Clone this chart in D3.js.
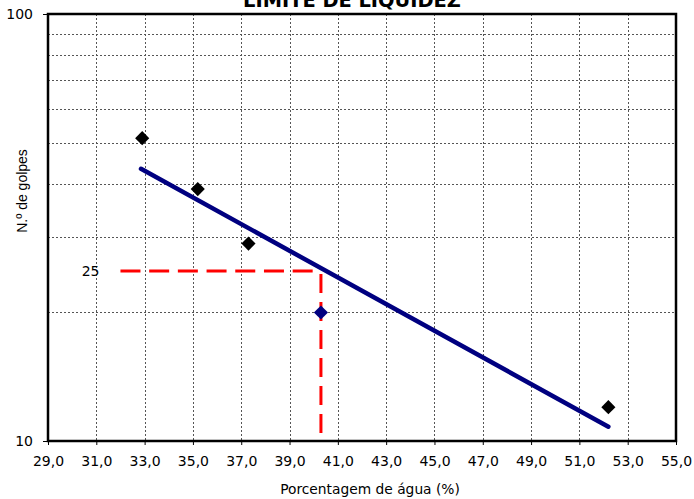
<!DOCTYPE html>
<html>
<head>
<meta charset="utf-8">
<script src="https://cdn.jsdelivr.net/npm/d3@7"></script>
<style>
  body { margin: 0; background: #fff; }
  svg { display: block; }
</style>
</head>
<body>
<div id="chart"></div>
<script>
// data
var waterPct = [32.9, 35.2, 37.3, 52.2];
var blows = [51.2, 38.9, 29.0, 12.0];
var pointLLX = [40.3];
var pointLLY = [20.0];
var trendX = [32.85, 52.2];
var trendY = [43.4, 10.8];
var limitX = [32.0, 40.3];   // red dashed guide: from x=32 to LL
var limitN = 25;
var xTicks = [29, 31, 33, 35, 37, 39, 41, 43, 45, 47, 49, 51, 53, 55];
var yTicks = [10, 100];
var yGrid = [20, 30, 40, 50, 60, 70, 80, 90];

var width = 694,
    height = 499,
    margin = { top: 14, right: 18, bottom: 58, left: 48 };

var svg = d3.select('#chart').append('svg')
    .attr('width', width)
    .attr('height', height);

var x = d3.scaleLinear().domain([29, 55]).range([margin.left, width - margin.right]);
var y = d3.scaleLog().domain([10, 100]).range([height - margin.bottom, margin.top]);

var fmt = function(d) { return d3.format('.1f')(d).replace('.', ','); };

// grid
var grid = svg.append('g').attr('class', 'grid')
    .attr('stroke', '#555').attr('stroke-width', 1).attr('stroke-dasharray', '2,2');
grid.selectAll('line.v')
    .data(xTicks.slice(1, -1))
    .enter().append('line')
    .attr('x1', function(d) { return Math.round(x(d)) + 0.5; })
    .attr('x2', function(d) { return Math.round(x(d)) + 0.5; })
    .attr('y1', y(100)).attr('y2', y(10));
grid.selectAll('line.h')
    .data(yGrid)
    .enter().append('line')
    .attr('y1', function(d) { return Math.round(y(d)) + 0.5; })
    .attr('y2', function(d) { return Math.round(y(d)) + 0.5; })
    .attr('x1', x(29)).attr('x2', x(55));

// axes
var xAxis = svg.append('g')
    .attr('transform', 'translate(0,' + y(10) + ')')
    .call(d3.axisBottom(x).tickValues(xTicks).tickFormat(fmt).tickSize(4).tickPadding(11));
var yAxis = svg.append('g')
    .attr('transform', 'translate(' + x(29) + ',0)')
    .call(d3.axisLeft(y).tickValues(yTicks).tickFormat(d3.format('d')).tickSize(5).tickPadding(10));
[xAxis, yAxis].forEach(function(a) {
    a.select('.domain').remove();
    a.selectAll('.tick line').attr('stroke', '#000');
    a.selectAll('.tick text')
        .attr('fill', '#000')
        .style('font-family', '"DejaVu Sans", sans-serif')
        .style('font-size', '14px');
});
yAxis.selectAll('.tick text').attr('dy', '0.35em');

// frame
svg.append('rect')
    .attr('x', x(29)).attr('y', y(100))
    .attr('width', x(55) - x(29)).attr('height', y(10) - y(100))
    .attr('fill', 'none').attr('stroke', '#000').attr('stroke-width', 2.5);

// red dashed guide lines at N = 25
svg.append('line')
    .attr('x1', x(limitX[0])).attr('x2', x(limitX[1]))
    .attr('y1', y(limitN)).attr('y2', y(limitN))
    .attr('stroke', '#ff0000').attr('stroke-width', 3).attr('stroke-dasharray', '20,8.7');
svg.append('line')
    .attr('x1', x(limitX[1])).attr('x2', x(limitX[1]))
    .attr('y1', y(limitN) + 3).attr('y2', y(10) - 8)
    .attr('stroke', '#ff0000').attr('stroke-width', 3).attr('stroke-dasharray', '19,9');
svg.append('text')
    .attr('x', x(limitX[0]) - 21).attr('y', y(limitN))
    .attr('dy', '0.35em')
    .attr('text-anchor', 'end')
    .style('font-family', '"DejaVu Sans", sans-serif')
    .style('font-size', '14px')
    .text(limitN);

// trend line
var line = d3.line().x(function(d) { return x(d[0]); }).y(function(d) { return y(d[1]); });
svg.append('path')
    .datum(d3.zip(trendX, trendY))
    .attr('d', line)
    .attr('fill', 'none').attr('stroke', '#000080').attr('stroke-width', 4.5)
    .attr('stroke-linecap', 'round');

// points
var diamond = d3.symbol(d3.symbolSquare, 100);
svg.append('g').selectAll('path')
    .data(d3.zip(waterPct, blows))
    .enter().append('path')
    .attr('d', diamond)
    .attr('transform', function(d) { return 'translate(' + x(d[0]) + ',' + y(d[1]) + ') rotate(45)'; })
    .attr('fill', '#000');
svg.append('g').selectAll('path')
    .data(d3.zip(pointLLX, pointLLY))
    .enter().append('path')
    .attr('d', diamond)
    .attr('transform', function(d) { return 'translate(' + x(d[0]) + ',' + y(d[1]) + ') rotate(45)'; })
    .attr('fill', '#000080');

// title (cut off at the top edge, as in the original) and axis titles
svg.append('text')
    .attr('x', 352).attr('y', 7)
    .attr('text-anchor', 'middle')
    .style('font-family', '"DejaVu Sans", sans-serif')
    .style('font-weight', 'bold')
    .style('font-size', '19.4px')
    .text('LIMITE DE LIQUIDEZ');
svg.append('text')
    .attr('x', 370).attr('y', 494)
    .attr('text-anchor', 'middle')
    .style('font-family', '"DejaVu Sans", sans-serif')
    .style('font-size', '13.8px')
    .text('Porcentagem de água (%)');
svg.append('text')
    .attr('transform', 'translate(27,191) rotate(-90)')
    .attr('text-anchor', 'middle')
    .style('font-family', '"Liberation Sans", Arial, sans-serif')
    .style('font-size', '14px')
    .text('N.º de golpes');
</script>
</body>
</html>
